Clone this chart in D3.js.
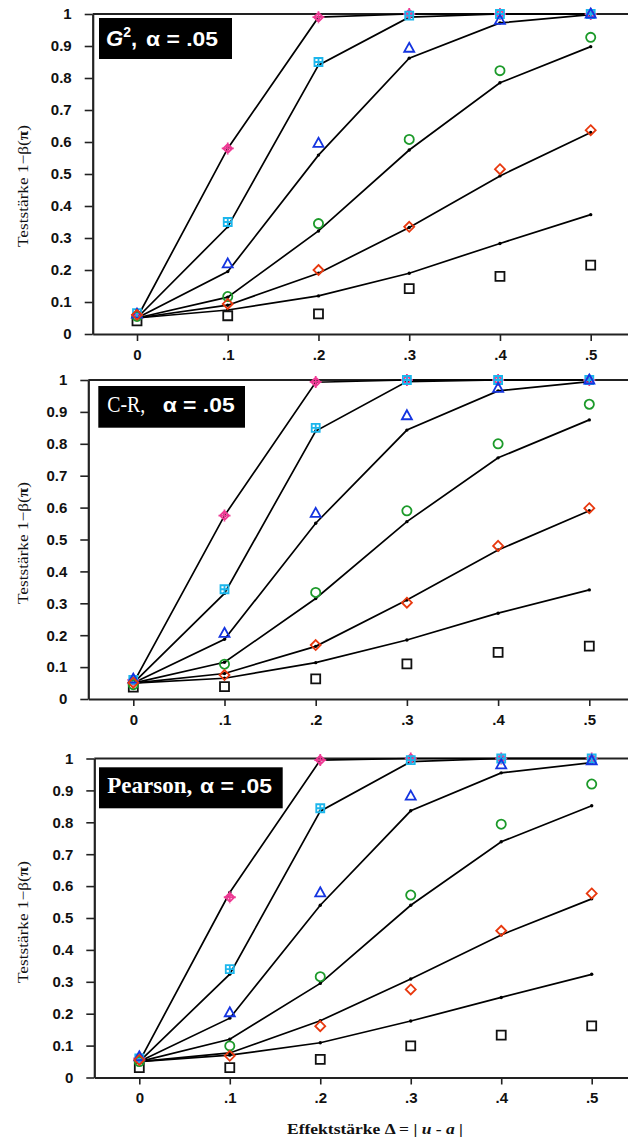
<!DOCTYPE html>
<html><head><meta charset="utf-8">
<script src="https://cdn.jsdelivr.net/npm/d3@7"></script>
<style>body{margin:0;background:#fff}svg{display:block}</style>
</head><body><svg id="c" width="628" height="1139"></svg>
<script>
// ---------- DATA ----------
const effectSizes = [0, 0.1, 0.2, 0.3, 0.4, 0.5];
const xTickLabels = ["0", ".1", ".2", ".3", ".4", ".5"];
const yTicks = [0, 0.1, 0.2, 0.3, 0.4, 0.5, 0.6, 0.7, 0.8, 0.9, 1];
const yTickLabels = ["0", "0.1", "0.2", "0.3", "0.4", "0.5", "0.6", "0.7", "0.8", "0.9", "1"];
// series order: pink (diamond+), cyan (square+), blue (triangle), green (circle), red (diamond), black (square)
const seriesShapes = ["diamondPlus", "squarePlus", "triangle", "circle", "diamond", "square"];
const seriesColors = ["#ee3a94", "#1cb6ec", "#1434e0", "#1c9a2a", "#e8380e", "#111111"];

// G^2 panel: theoretical curves (lines) and simulated values (markers)
const g2Theory = [
  [0.05, 0.58, 0.99, 1.0, 1.0, 1.0],
  [0.05, 0.335, 0.84, 0.99, 1.0, 1.0],
  [0.05, 0.195, 0.559, 0.862, 0.972, 0.998],
  [0.05, 0.115, 0.322, 0.575, 0.785, 0.898],
  [0.05, 0.09, 0.19, 0.333, 0.494, 0.63],
  [0.05, 0.075, 0.119, 0.19, 0.283, 0.373]
];
const g2Simulated = [
  [0.06, 0.58, 0.99, 1.0, 1.0, 1.0],
  [0.065, 0.35, 0.85, 0.995, 1.0, 1.0],
  [0.062, 0.219, 0.596, 0.893, 0.98, 1.0],
  [0.055, 0.117, 0.345, 0.608, 0.823, 0.927],
  [0.06, 0.094, 0.2, 0.335, 0.515, 0.637],
  [0.041, 0.057, 0.063, 0.142, 0.18, 0.215]
];
// C-R panel
const crTheory = [
  [0.05, 0.575, 0.993, 1.0, 1.0, 1.0],
  [0.05, 0.331, 0.84, 0.995, 1.0, 1.0],
  [0.05, 0.187, 0.551, 0.843, 0.966, 0.995],
  [0.05, 0.115, 0.315, 0.556, 0.756, 0.875],
  [0.05, 0.08, 0.165, 0.31, 0.467, 0.59],
  [0.05, 0.065, 0.114, 0.185, 0.269, 0.342]
];
const crSimulated = [
  [0.06, 0.575, 0.994, 1.0, 1.0, 1.0],
  [0.06, 0.344, 0.85, 1.0, 1.0, 1.0],
  [0.062, 0.206, 0.582, 0.888, 0.974, 1.0],
  [0.045, 0.109, 0.334, 0.59, 0.8, 0.924],
  [0.051, 0.075, 0.169, 0.302, 0.48, 0.598],
  [0.037, 0.039, 0.063, 0.11, 0.146, 0.166]
];
// Pearson panel
const pearsonTheory = [
  [0.05, 0.58, 0.995, 1.0, 1.0, 1.0],
  [0.05, 0.324, 0.835, 0.99, 1.0, 1.0],
  [0.05, 0.186, 0.54, 0.836, 0.955, 0.987],
  [0.05, 0.12, 0.295, 0.54, 0.739, 0.852],
  [0.05, 0.077, 0.178, 0.309, 0.447, 0.56],
  [0.05, 0.07, 0.109, 0.177, 0.251, 0.3235]
];
const pearsonSimulated = [
  [0.06, 0.565, 0.995, 1.0, 1.0, 1.0],
  [0.06, 0.34, 0.844, 0.995, 1.0, 1.0],
  [0.065, 0.203, 0.579, 0.882, 0.98, 0.993],
  [0.05, 0.099, 0.316, 0.572, 0.794, 0.92],
  [0.055, 0.068, 0.161, 0.276, 0.46, 0.577],
  [0.031, 0.031, 0.057, 0.099, 0.133, 0.162]
];
const panelTitleNames = ["G", "C-R,", "Pearson,"];
const panelTitleAlpha = "α = .05";
const yAxisTitle = "Teststärke 1−β(";
const xAxisTitle = "Effektstärke ";

// ---------- LAYOUT ----------
const W = 628;
const layouts = [
  {left: 92.7, x0: 137, x5: 590.7, yb: 334, yt: 14, box: [99, 18, 133, 41], nameX: 106, alphaX: 146, base: 46, labelY: 186},
  {left: 88.3, x0: 133.3, x5: 589.3, yb: 699, yt: 380, box: [98.3, 386, 146.7, 41.7], nameX: 107.3, alphaX: 162.7, base: 412.3, labelY: 543},
  {left: 94.3, x0: 139.3, x5: 591.7, yb: 1077.5, yt: 758.5, box: [99, 767.3, 183.7, 41], nameX: 107.3, alphaX: 200, base: 793.3, labelY: 922}
];
const panels = [
  {theory: g2Theory, sim: g2Simulated},
  {theory: crTheory, sim: crSimulated},
  {theory: pearsonTheory, sim: pearsonSimulated}
];

const svg = d3.select("#c");
const sans = "'Liberation Sans', Arial, sans-serif";
const serif = "'Liberation Serif', 'DejaVu Serif', serif";

function shapePath(type) {
  switch (type) {
    case "square": return "M-4.5,-4.5H4.5V4.5H-4.5Z";
    case "squarePlus": return "M-4,-4H4V4H-4Z M0,-4V4 M-4,0H4";
    case "triangle": return "M0,-5.5L5,3.5H-5Z";
    case "circle": return "M4.6,0A4.6,4.6 0 1,1 -4.6,0A4.6,4.6 0 1,1 4.6,0Z";
    case "diamond": return "M0,-5L5,0L0,5L-5,0Z";
    case "diamondPlus": return "M0,-4.5L4.5,0L0,4.5L-4.5,0Z M0,-6V6 M-6,0H6";
  }
}

panels.forEach((p, pi) => {
  const L = layouts[pi];
  const x = d3.scaleLinear().domain([0, 0.5]).range([L.x0, L.x5]);
  const xFull = d3.scaleLinear().domain([x.invert(L.left), x.invert(W)]).range([L.left, W]);
  const y = d3.scaleLinear().domain([0, 1]).range([L.yb, L.yt]);
  const g = svg.append("g");

  // frame top line
  g.append("line").attr("x1", L.left).attr("x2", W).attr("y1", y(1)).attr("y2", y(1))
    .attr("stroke", "#222").attr("stroke-width", 2);

  // axes
  const ax = g.append("g").attr("transform", `translate(0,${L.yb})`)
    .call(d3.axisBottom(xFull).tickValues(effectSizes).tickFormat((d, i) => xTickLabels[i])
      .tickSize(7).tickSizeOuter(0).tickPadding(8));
  const ay = g.append("g").attr("transform", `translate(${L.left},0)`)
    .call(d3.axisLeft(y).tickValues(yTicks).tickFormat((d, i) => yTickLabels[i])
      .tickSize(8).tickSizeOuter(0).tickPadding(13));
  [ax, ay].forEach(a => {
    a.select(".domain").attr("stroke", "#222").attr("stroke-width", 2.2);
    a.selectAll(".tick line").attr("stroke", "#222").attr("stroke-width", 1.6);
    a.selectAll(".tick text").attr("font-family", sans).attr("font-weight", "bold")
      .attr("font-size", 15).attr("fill", "#111");
  });

  // lines
  const line = d3.line().x((d, i) => x(effectSizes[i])).y(d => y(d));
  p.theory.forEach(s => {
    g.append("path").attr("d", line(s)).attr("fill", "none")
      .attr("stroke", "#000").attr("stroke-width", 1.7);
    g.selectAll(null).data(s).enter().append("circle")
      .attr("cx", (d, i) => x(effectSizes[i])).attr("cy", d => y(d)).attr("r", 1.7).attr("fill", "#000");
  });

  // markers (draw black first, red last)
  const order = [5, 0, 1, 3, 2, 4];
  order.forEach(si => {
    g.selectAll(null).data(p.sim[si]).enter().append("path")
      .attr("d", shapePath(seriesShapes[si]))
      .attr("transform", (d, i) => `translate(${x(effectSizes[i])},${y(d)})`)
      .attr("fill", "none").attr("stroke", seriesColors[si]).attr("stroke-width", 1.8);
  });

  // title box
  g.append("rect").attr("x", L.box[0]).attr("y", L.box[1]).attr("width", L.box[2]).attr("height", L.box[3])
    .attr("fill", "#000");
  if (pi === 0) {
    const t = g.append("text").attr("x", L.nameX).attr("y", L.base).attr("fill", "#fff")
      .attr("font-family", sans).attr("font-weight", "bold").attr("font-size", 22);
    t.append("tspan").attr("font-style", "italic").text(panelTitleNames[0]);
    t.append("tspan").attr("font-size", 14).attr("dy", -9).text("2");
    t.append("tspan").attr("dy", 9).text(",");
  } else {
    g.append("text").attr("x", L.nameX).attr("y", L.base).attr("fill", "#fff")
      .attr("font-family", serif).attr("font-weight", pi === 2 ? "bold" : "normal")
      .attr("font-size", 23)
      .attr("textLength", pi === 2 ? 85 : 38).attr("lengthAdjust", "spacingAndGlyphs")
      .text(panelTitleNames[pi]);
  }
  g.append("text").attr("x", L.alphaX).attr("y", L.base).attr("fill", "#fff")
    .attr("font-family", sans).attr("font-weight", "bold").attr("font-size", 21)
    .attr("textLength", 72).attr("lengthAdjust", "spacingAndGlyphs")
    .text(panelTitleAlpha);

  // y axis title
  const yl = g.append("text").attr("transform", `translate(28,${L.labelY}) rotate(-90)`)
    .attr("text-anchor", "middle").attr("font-family", serif).attr("font-size", 15).attr("fill", "#111")
    .attr("textLength", 122).attr("lengthAdjust", "spacingAndGlyphs");
  yl.append("tspan").text(yAxisTitle);
  yl.append("tspan").attr("font-weight", "bold").text("π");
  yl.append("tspan").text(")");
});

// x axis title
const xt = svg.append("text").attr("x", 287).attr("y", 1134).attr("font-family", serif)
  .attr("font-weight", "bold").attr("font-size", 15).attr("fill", "#111")
  .attr("textLength", 176).attr("lengthAdjust", "spacingAndGlyphs");
xt.append("tspan").text(xAxisTitle);
xt.append("tspan").text("Δ = | ");
xt.append("tspan").attr("font-style", "italic").text("u");
xt.append("tspan").text(" - ");
xt.append("tspan").attr("font-style", "italic").text("a");
xt.append("tspan").text(" |");
</script></body></html>
